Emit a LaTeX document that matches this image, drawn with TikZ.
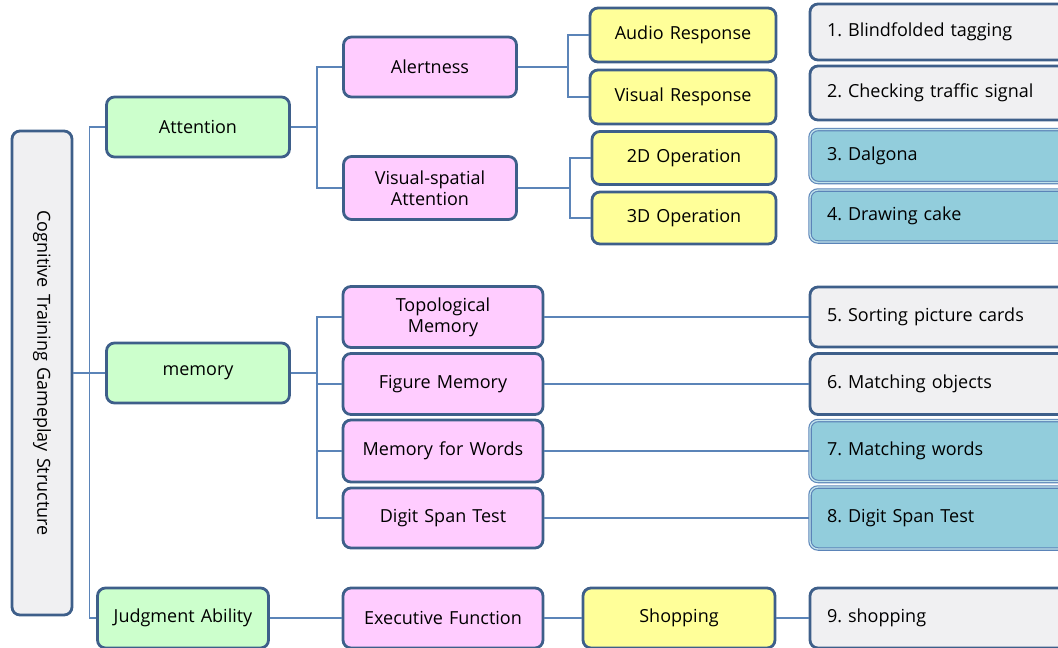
\documentclass[tikz,border=0pt]{standalone}
\usepackage{fontspec}
\setmainfont{Open Sans}[WordSpace=1.3]
\frenchspacing
\usetikzlibrary{positioning}
\definecolor{edgeblue}{HTML}{3E5F8A}
\definecolor{linkblue}{HTML}{5B84B8}
\definecolor{abilgreen}{HTML}{CCFFCC}
\definecolor{funcpink}{HTML}{FFCCFF}
\definecolor{taskyellow}{HTML}{FFFF99}
\definecolor{gamegray}{HTML}{F0F0F2}
\definecolor{gameblue}{HTML}{92CDDC}
\tikzset{
    box/.style={
    rectangle,rounded corners=8pt,draw=edgeblue,line width=2.8pt,align=center,font=\fontsize{18}{21}\selectfont
    },
    rootbox/.style={
    box,fill=gamegray,rotate=-90,minimum width=484pt,minimum height=60pt
    },
    ability/.style={
    box,fill=abilgreen,minimum width=183pt,minimum height=60pt
    },
    func/.style={
    box,fill=funcpink,minimum width=200pt,minimum height=61pt,inner ysep=2pt
    },
    task/.style={
    box,fill=taskyellow,minimum width=186pt,minimum height=54pt
    },
    game/.style={
    box,fill=gamegray,minimum width=270pt,text width=236pt,align=left,inner xsep=17pt,minimum height=58pt
    },
    dgame/.style={
    game,fill=gameblue,draw=linkblue,line width=1.1pt,double=gameblue!55!white,double distance=1.3pt
    },
    link/.style={
    draw=linkblue,line width=1.6pt
    },
}
\begin{document}
\begin{tikzpicture}[x=1pt,y=-1pt,on grid]
   \useasboundingbox (0,0) rectangle (1058,648);
   \clip (0,0) rectangle (1058,648);
   %root
   \node[rootbox] (cogn) at (42,373) {Cognitive Training Gameplay Structure};
   %abilities
   \node[ability] (att) at (198,127) {Attention};
   \node[ability] (mem) [right=156pt of cogn] {memory};
   \node[ability,minimum width=171pt] (judg) at (183,618) {Judgment Ability};
   %attention
   \node[func,minimum width=173pt,minimum height=60pt] (alert) [above right=60pt and 232pt of att] {Alertness};
   \node[func,minimum width=173pt,minimum height=63pt] (vsatt) [below right=61pt and 232pt of att] {Visual-spatial\\Attention};
   \node[task] (audio) [above right=32pt and 253pt of alert] {Audio Response};
   \node[task] (visual) [below=62pt of audio] {Visual Response};
   \node[task,minimum width=184pt,minimum height=53pt] (opTwo) [above right=30pt and 254pt of vsatt] {2D Operation};
   \node[task,minimum width=184pt,minimum height=52pt] (opThree) [below=60pt of opTwo] {3D Operation};
   %memory
   \node[func] (topo) [above right=56pt and 245pt of mem] {Topological\\Memory};
   \node[func] (figure) [below=67pt of topo] {Figure Memory};
   \node[func,minimum height=62pt] (words) [below=67pt of figure] {Memory for Words};
   \node[func,minimum height=60pt] (digit) [below=67pt of words] {Digit Span Test};
   %judgment
   \node[func,minimum height=60pt] (exec) [right=260pt of judg] {Executive Function};
   \node[task,minimum width=192pt,minimum height=60pt] (shop) [right=236pt of exec] {Shopping};
   %games
   \node[game,minimum height=56pt] (gOne) at (945,32) {1. Blindfolded tagging};
   \node[game,minimum height=54pt] (gTwo) [below=61pt of gOne] {2. Checking traffic signal};
   \node[dgame,minimum height=53pt] (gThree) [below=63pt of gTwo] {3. Dalgona};
   \node[dgame,minimum height=52pt] (gFour) [below=60pt of gThree] {4. Drawing cake};
   \node[game,minimum height=60pt] (gFive) [right=502pt of topo] {5. Sorting picture cards};
   \node[game,minimum height=61pt] (gSix) [right=502pt of figure] {6. Matching objects};
   \node[dgame,minimum height=61pt] (gSeven) [right=502pt of words] {7. Matching words};
   \node[dgame,minimum height=62pt] (gEight) [right=502pt of digit] {8. Digit Span Test};
   \node[game,minimum height=60pt] (gNine) [right=266pt of shop] {9. shopping};

   \path[link]
   %root
    (cogn.north) edge (mem.west)
    (cogn.north) edge[to path={-- ++(16,0) |- (\tikztotarget)}] (att.west)
    (cogn.north) edge[to path={-- ++(16,0) |- (\tikztotarget)}] (judg.west)
   %attention
    (att.east) edge[to path={-- ++(26,0) |- (\tikztotarget)}] (alert.west)
    (att.east) edge[to path={-- ++(26,0) |- (\tikztotarget)}] (vsatt.west)
    (alert.east) edge[to path={-- ++(50,0) |- (\tikztotarget)}] (audio.west)
    (alert.east) edge[to path={-- ++(50,0) |- (\tikztotarget)}] (visual.west)
    (vsatt.east) edge[to path={-- ++(52,0) |- (\tikztotarget)}] (opTwo.west)
    (vsatt.east) edge[to path={-- ++(52,0) |- (\tikztotarget)}] (opThree.west)
   %memory
    (mem.east) edge[to path={-- ++(26,0) |- (\tikztotarget)}] (topo.west)
    (mem.east) edge[to path={-- ++(26,0) |- (\tikztotarget)}] (figure.west)
    (mem.east) edge[to path={-- ++(26,0) |- (\tikztotarget)}] (words.west)
    (mem.east) edge[to path={-- ++(26,0) |- (\tikztotarget)}] (digit.west)
    (topo) edge (gFive)
    (figure) edge (gSix)
    (words) edge (gSeven)
    (digit) edge (gEight)
   %judgment
    (judg) edge (exec)
    (exec) edge (shop)
    (shop) edge (gNine)
   ;
\end{tikzpicture}
\end{document}
